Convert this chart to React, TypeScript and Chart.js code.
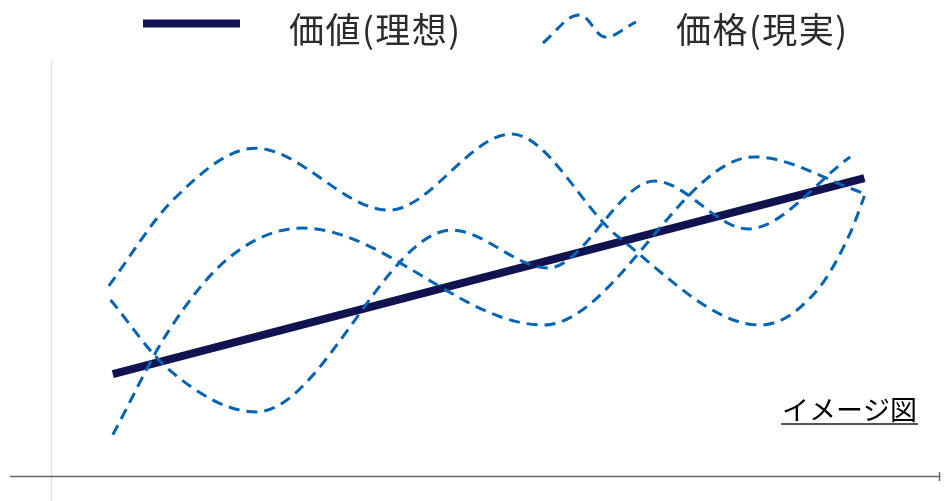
import React, { useEffect, useRef } from "react";
import { Chart, registerables } from "chart.js";

Chart.register(...registerables);

// ---- data (x: 0..100 horizontal units, y: 0..100 vertical units) ----
const idealLabel = "価値(理想)";
const realLabel = "価格(現実)";
const noteText = "イメージ図";

const idealX = [6.95, 91.5];
const idealY = [24.5, 71.6];

const priceAX = [6.5, 13.7, 23.0, 38.0, 51.8, 63.8, 79.8, 86.2, 89.9, 91.5];
const priceAY = [45.7, 66.3, 78.8, 63.9, 82.2, 57.5, 36.3, 44.7, 58.4, 67.3];

const priceBX = [6.7, 13.3, 23.1, 45.1, 55.9, 67.9, 78.4, 89.9];
const priceBY = [42.3, 25.5, 15.4, 59.1, 50.0, 70.9, 59.4, 76.7];

const priceCX = [6.95, 13.3, 20.1, 28.3, 55.4, 79.1, 91.4];
const priceCY = [9.9, 35.1, 52.6, 59.6, 36.3, 76.7, 68.0];

const NAVY = "#111350";
const BLUE = "#0563b5";
const FONT = '"Noto Sans CJK JP", "Noto Sans", sans-serif';

const pts = (xs: number[], ys: number[]) => xs.map((x, i) => ({ x, y: ys[i] }));

const decorPlugin = {
  id: "decor",
  beforeDatasetsDraw(chart: any) {
    const { ctx, scales } = chart;
    const x0 = scales.x.getPixelForValue(0);
    const y0 = scales.y.getPixelForValue(0);
    const xEnd = scales.x.getPixelForValue(100);
    const top = scales.y.getPixelForValue(100);
    ctx.save();
    // vertical light line
    ctx.strokeStyle = "#e4e4e4";
    ctx.lineWidth = 1.5;
    ctx.beginPath();
    ctx.moveTo(x0 + 0.5, top);
    ctx.lineTo(x0 + 0.5, chart.height);
    ctx.stroke();
    // horizontal axis
    ctx.strokeStyle = "#666666";
    ctx.lineWidth = 1.5;
    ctx.beginPath();
    ctx.moveTo(10, y0 + 0.5);
    ctx.lineTo(xEnd, y0 + 0.5);
    ctx.stroke();
    ctx.beginPath();
    ctx.moveTo(xEnd - 0.5, y0 - 4);
    ctx.lineTo(xEnd - 0.5, y0 + 5);
    ctx.stroke();
    ctx.restore();
  },
  afterDraw(chart: any) {
    const { ctx } = chart;
    ctx.save();
    // legend item 1: thick line
    ctx.strokeStyle = NAVY;
    ctx.lineWidth = 8;
    ctx.lineCap = "butt";
    ctx.beginPath();
    ctx.moveTo(143, 23.5);
    ctx.lineTo(240, 23.5);
    ctx.stroke();
    ctx.fillStyle = "#2b2b2b";
    ctx.font = `35px ${FONT}`;
    ctx.textBaseline = "middle";
    ctx.textAlign = "left";
    try { (ctx as any).letterSpacing = "1.5px"; } catch (e) {}
    ctx.fillText(idealLabel, 289, 30);
    // legend item 2: wavy dashed line
    ctx.strokeStyle = BLUE;
    ctx.lineWidth = 3;
    ctx.setLineDash([11, 7]);
    ctx.beginPath();
    ctx.moveTo(543, 43);
    ctx.bezierCurveTo(558, 30, 568, 14, 580, 15);
    ctx.bezierCurveTo(590, 16, 595, 36, 605, 37);
    ctx.bezierCurveTo(615, 38, 625, 27, 636, 22);
    ctx.stroke();
    ctx.setLineDash([]);
    ctx.fillText(realLabel, 676, 30);
    try { (ctx as any).letterSpacing = "0px"; } catch (e) {}
    // note
    ctx.fillStyle = "#000000";
    ctx.font = `27px ${FONT}`;
    ctx.fillText(noteText, 782, 410);
    const w = ctx.measureText(noteText).width;
    ctx.strokeStyle = "#555555";
    ctx.lineWidth = 2;
    ctx.beginPath();
    ctx.moveTo(781, 424);
    ctx.lineTo(783 + w, 424);
    ctx.stroke();
    ctx.restore();
  },
};

export default function App() {
  const ref = useRef<HTMLCanvasElement | null>(null);
  useEffect(() => {
    document.body.style.margin = "0";
    const dashed = (data: any) => ({
      label: realLabel,
      data,
      borderColor: BLUE,
      borderWidth: 3,
      borderDash: [11, 7],
      borderCapStyle: "butt",
      cubicInterpolationMode: "monotone",
      fill: false,
      pointRadius: 0,
      order: 1,
    });
    const chart = new Chart(ref.current as HTMLCanvasElement, {
      type: "line",
      data: {
        datasets: [
          {
            label: idealLabel,
            data: pts(idealX, idealY),
            borderColor: NAVY,
            borderWidth: 8,
            borderCapStyle: "butt",
            tension: 0,
            fill: false,
            pointRadius: 0,
            order: 2,
          } as any,
          dashed(pts(priceAX, priceAY)),
          dashed(pts(priceBX, priceBY)),
          dashed(pts(priceCX, priceCY)),
        ],
      },
      options: {
        animation: false,
        responsive: false,
        layout: { padding: { left: 51, right: 1, top: 60, bottom: 25 } },
        plugins: { legend: { display: false }, tooltip: { enabled: false } },
        scales: {
          x: { type: "linear", min: 0, max: 100, display: false },
          y: { type: "linear", min: 0, max: 100, display: false },
        },
      } as any,
      plugins: [decorPlugin],
    });
    const fontsReady = (document as any).fonts;
    if (fontsReady && fontsReady.load) {
      Promise.all([
        fontsReady.load(`35px "Noto Sans CJK JP"`, idealLabel + realLabel + noteText),
      ]).then(() => chart.update()).catch(() => {});
    }
    return () => chart.destroy();
  }, []);
  return (
    <div style={{ position: "absolute", left: 0, top: 0, width: 944, height: 501, background: "#ffffff" }}>
      <canvas ref={ref} width={944} height={501} style={{ display: "block" }} />
    </div>
  );
}
